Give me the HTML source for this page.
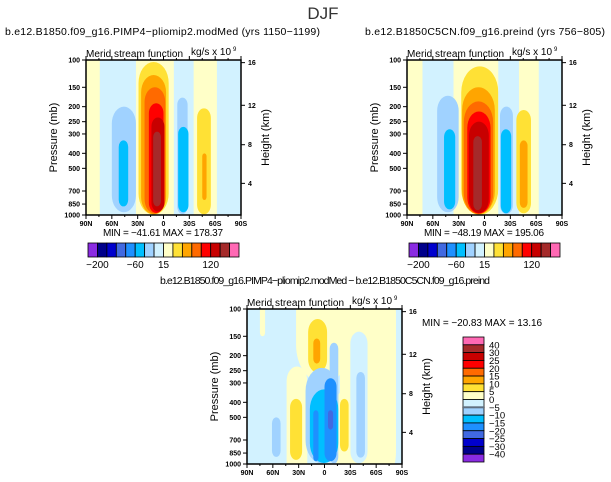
<!DOCTYPE html>
<html><head><meta charset="utf-8"><style>
html,body{margin:0;padding:0;background:#fff}
svg{display:block}
text{font-family:"Liberation Sans",sans-serif;fill:#000}
</style></head><body>
<svg id="fig" width="611" height="482" viewBox="0 0 611 482" xmlns="http://www.w3.org/2000/svg">
<text x="323" y="19" font-size="17" text-anchor="middle" style="fill:#333">DJF</text>
</svg>
<script>
// ---- data ----
const palette = ["#8a2be2","#00008b","#0000cd","#4169e1","#1e90ff","#00bfff","#a0d2ff","#d2f2ff","#ffffc8","#ffe135","#ffa500","#ff6a00","#ff0000","#c80000","#a52a2a","#ff69b4"];
const latTicks = ["90N","60N","30N","0","30S","60S","90S"];
const latTickVals = [-90,-60,-30,0,30,60,90];
const presTicks = [100,150,200,250,300,400,500,700,850,1000];
const heightTicks = [16,12,8,4];
const heightTickPres = [104,196,352,625];
const topCbarLabels = ["-200","-60","15","120"];
const topCbarLabelIdx = [1,5,8,13];
const diffCbarLabels = ["40","30","25","20","15","10","5","0","-5","-10","-15","-20","-25","-30","-40"];
// blobs: [lat1(N<0), lat2, pTop, pBottom, levelIndex]
const blobsA = [
 [-74,-32,100,1000,7],[-60,-32,200,960,6],[-52,-41,330,880,5],
 [-29,6,103,995,9],[-26,3,125,990,10],[-22,2,150,980,11],[-17,0,190,970,12],[-14,1,235,950,13],[-12,-3,290,880,14],
 [12,35,100,1000,7],[16,28,175,985,6],[17,29,270,960,5],
 [39,55,205,990,9],[45,50,400,800,10],[62,90,100,1000,7]];
const blobsB = [
 [-72,-36,100,1000,7],[-55,-30,170,960,6],[-47,-34,280,920,5],
 [-27,16,110,995,9],[-26,12,150,990,10],[-24,10,185,985,11],[-20,7,215,980,12],[-18,5,250,970,13],[-13,-3,310,930,14],
 [16,40,100,1000,7],[18,33,200,985,6],[19,31,280,975,5],
 [37,54,210,975,9],[41,50,330,900,10],[63,90,100,1000,7]];
const blobsC = [
 [18,83,100,1000,8],[-33,30,100,300,8],[30,50,140,990,7],[37,47,255,910,6],
 [-44,-20,235,1000,8],[-40,-26,380,940,9],
 [14,30,340,1000,8],[18,28,380,830,9],
 [-19,3,116,257,9],[-13,-5,155,225,10],
 [-22,16,240,990,6],[6,16,165,990,6],[-17,16,330,985,5],[0,14,280,960,4],[-13,-7,450,960,4],[4,10,450,600,3],
 [-61,-51,500,900,6],[-75,-69,100,150,8]];
const bgA = 8, bgB = 8, bgC = 7;

const NS = "http://www.w3.org/2000/svg";
const svg = document.getElementById("fig");
function el(tag, attrs, parent){
  const e = document.createElementNS(NS, tag);
  for (const k in attrs) e.setAttribute(k, attrs[k]);
  (parent||svg).appendChild(e); return e;
}
function txt(s, x, y, size, anchor, parent){
  const t = el("text", {x:x, y:y, "font-size":size, "text-anchor":anchor||"start"}, parent);
  t.textContent = s; return t;
}

function panel(id, ox, oy, blobs, bg, title, titleX, titleLen, titleSize, minmax){
  const W=155, H=155;
  const g = el("g", {});
  
  
  const xs = v => ox + (v+90)/180*W;
  const ys = p => oy + Math.log10(p/100)*H;
  const clip = el("clipPath", {id:id+"clip"}, g);
  el("rect", {x:ox, y:oy, width:W, height:H}, clip);
  const t = txt(title, titleX, oy-25, titleSize, "start", g);
  t.setAttribute("textLength", titleLen);
  
  
  const plot = el("g", {"clip-path":"url(#"+id+"clip)"}, g);
  
  
  el("rect", {x:ox, y:oy, width:W, height:H, fill:palette[bg]}, plot);
  blobs.forEach((b,i) => {
    const pt = b[2] <= 100 ? 60 : b[2];
    const pb = b[3] >= 1000 ? 1500 : b[3];
    const x1 = xs(b[0]), x2 = xs(b[1]), y1 = ys(pt), y2 = ys(pb);
    const w = x2-x1, h = y2-y1;
    const r = el("rect", {x:x1, y:y1, width:w, height:h, rx:w/2, ry:Math.min(w*0.7, h/2), fill:palette[b[4]]}, plot);
    
    
  });
  const frame = el("rect", {x:ox, y:oy, width:W, height:H, fill:"none", stroke:"#000", "stroke-width":1.5}, g);
  
  
  latTickVals.forEach((v,i) => {
    const x = xs(v);
    el("line", {x1:x, y1:oy+H, x2:x, y2:oy+H+4, stroke:"#000"}, g);
    el("line", {x1:x, y1:oy, x2:x, y2:oy-4, stroke:"#000"}, g);
    const l = txt(latTicks[i], x, oy+H+11, 7, "middle", g);
    l.setAttribute("font-weight","bold");
    
    
  });
  for (let v=-75; v<90; v+=30){ const x=xs(v); el("line",{x1:x,y1:oy,x2:x,y2:oy-2,stroke:"#000"},g); el("line",{x1:x,y1:oy+H,x2:x,y2:oy+H+2,stroke:"#000"},g); }
  presTicks.forEach(p => {
    const y = ys(p);
    el("line", {x1:ox-4, y1:y, x2:ox, y2:y, stroke:"#000"}, g);
    const l = txt(String(p), ox-6, y+2.5, 7, "end", g);
    l.setAttribute("font-weight","bold");
    
    
  });
  heightTicks.forEach((h,i) => {
    const y = ys(heightTickPres[i]);
    el("line", {x1:ox+W, y1:y, x2:ox+W+4, y2:y, stroke:"#000"}, g);
    const l = txt(String(h), ox+W+7, y+2.5, 7, "start", g);
    l.setAttribute("font-weight","bold");
    
    
  });
  const yl = txt("Pressure (mb)", 0, 0, 11, "middle", g);
  yl.setAttribute("transform", "translate("+(ox-29)+","+(oy+H/2)+") rotate(-90)");
  
  
  const hl = txt("Height (km)", 0, 0, 11, "middle", g);
  hl.setAttribute("transform", "translate("+(ox+W+28)+","+(oy+H/2)+") rotate(-90)");
  
  
  const st = txt("Merid stream function", ox, oy-3, 10, "start", g);
  st.setAttribute("textLength", 97);
  
  
  const un = txt("kg/s x 10", ox+W-50, oy-5, 10, "start", g);
  
  
  txt("9", ox+W-8, oy-9, 6, "start", g);
  if (minmax){
    const m = txt(minmax, ox+17, oy+H+21, 10, "start", g);
    m.setAttribute("textLength", 120);
    
    
  }
  return g;
}

function topColorbar(id, ox, oy){
  const W=151, H=14, n=palette.length, bw=W/n;
  const g = el("g", {});
  
  
  palette.forEach((c,i) => {
    const r = el("rect", {x:ox+i*bw, y:oy, width:bw, height:H, fill:c, stroke:"#000", "stroke-width":0.8}, g);
    
    
  });
  topCbarLabels.forEach((s,i) => {
    const l = txt(s.replace("-","\u2212"), ox+topCbarLabelIdx[i]*bw, oy+H+11, 10, "middle", g);
    
    
  });
}

panel("left", 86, 60, blobsA, bgA, "b.e12.B1850.f09_g16.PIMP4\u2212pliomip2.modMed (yrs 1150\u22121199)", 5, 315, 10.5, "MIN = \u221241.61   MAX = 178.37");
panel("right", 407, 60, blobsB, bgB, "b.e12.B1850C5CN.f09_g16.preind (yrs 756\u2212805)", 365, 240, 10.5, "MIN = \u221248.19   MAX = 195.06");
panel("diff", 247, 309, blobsC, bgC, "b.e12.B1850.f09_g16.PIMP4\u2212pliomip2.modMed \u2212 b.e12.B1850C5CN.f09_g16.preind", 160, 330, 10.5, null);
topColorbar("left", 88, 243);
topColorbar("right", 409, 243);

(function(){
  const ox=463, oy=337, W=21, H=125, n=palette.length, bh=H/n;
  const g = el("g", {});
  
  
  const rev = palette.slice().reverse();
  rev.forEach((c,i) => {
    const r = el("rect", {x:ox, y:oy+i*bh, width:W, height:bh, fill:c, stroke:"#000", "stroke-width":0.8}, g);
    
    
  });
  el("rect", {x:ox, y:oy+9*bh-1, width:W, height:2, fill:"#607080"}, g);
  diffCbarLabels.forEach((s,i) => {
    const l = txt(s.replace("-","\u2212"), ox+W+5, oy+(i+1)*bh+3.5, 9.5, "start", g);
    
    
  });
  const m = txt("MIN = \u221220.83   MAX =   13.16", 422, 326, 10, "start", g);
  m.setAttribute("textLength", 120);
  
  
})();
</script>
</body></html>
